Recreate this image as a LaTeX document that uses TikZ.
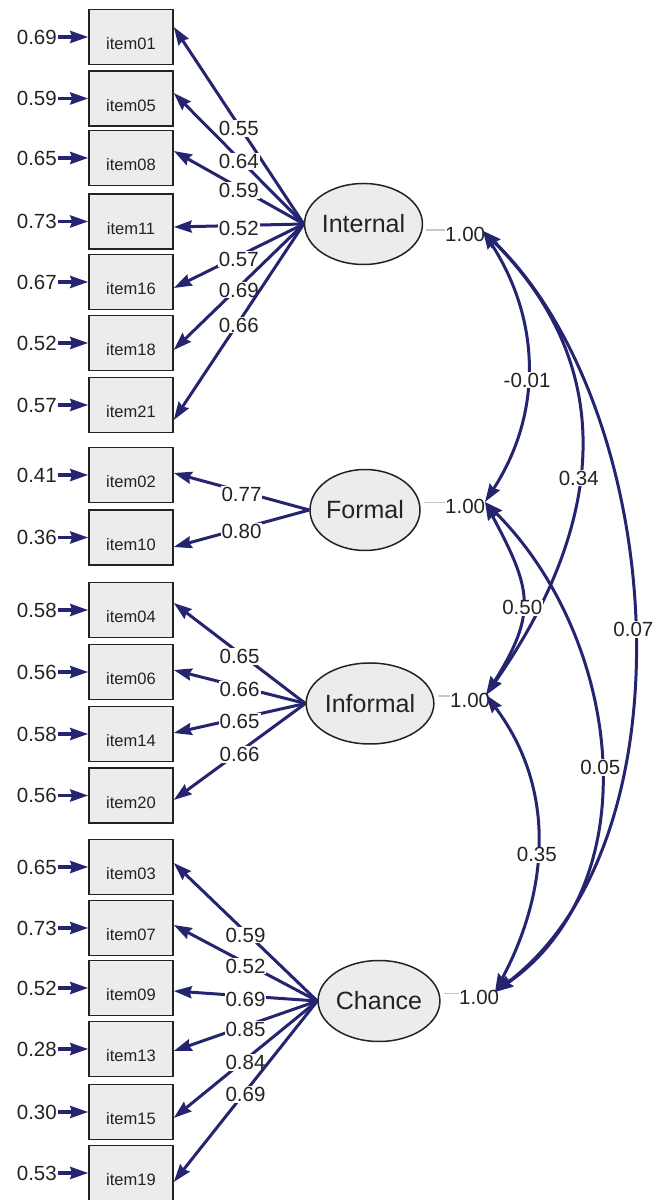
\documentclass[tikz,border=0pt]{standalone}
\usepackage{fontspec}
\setmainfont{Liberation Sans}
\usetikzlibrary{shapes.geometric,arrows.meta}

\definecolor{pathblue}{RGB}{36,36,112}
\definecolor{boxgray}{RGB}{236,236,236}
\definecolor{txtgray}{RGB}{35,35,35}

\tikzstyle{obs}=[rectangle,draw=txtgray,line width=1.5pt,fill=boxgray,minimum width=84pt,minimum height=55pt,inner sep=0pt,text height=26pt,text depth=0pt,font=\fontsize{16.5}{18}\selectfont,text=txtgray]
\tikzstyle{lat}=[ellipse,draw=txtgray,line width=1.5pt,fill=boxgray,minimum width=107pt,minimum height=81pt,inner sep=0pt,font=\fontsize{25}{28}\selectfont,text=txtgray]
\tikzstyle{err}=[inner sep=1pt,font=\fontsize{20.5}{23}\selectfont,text=txtgray]
\tikzstyle{var}=[inner sep=0pt,text height=23pt,text depth=0pt,font=\fontsize{20.5}{23}\selectfont,text=txtgray]
\tikzstyle{lbl}=[fill=white,inner sep=1pt,yshift=-3pt,font=\fontsize{20.5}{23}\selectfont,text=txtgray]
\tikzstyle{clbl}=[fill=white,inner sep=1pt,font=\fontsize{20.5}{23}\selectfont,text=txtgray]
\tikzstyle{erra}=[draw=pathblue,line width=3.5pt,-{Stealth[length=18pt,width=12pt,inset=2pt]}]
\tikzstyle{ledge}=[draw=pathblue,line width=3pt,-{Stealth[length=18pt,width=12pt,inset=2pt]}]
\tikzstyle{cedge}=[draw=pathblue,line width=3pt,{Stealth[length=18pt,width=12pt,inset=2pt]}-{Stealth[length=18pt,width=12pt,inset=2pt]}]
\tikzstyle{varl}=[draw=black!22,line width=1.5pt,shorten >=3pt]

\begin{document}
\begin{tikzpicture}[x=1pt,y=1pt]
        \useasboundingbox (0,0) rectangle (653,1200);

        % indicators
        \draw (131,1200-37)    node[obs](item01){item01};
        \draw (131,1200-98.5)  node[obs](item05){item05};
        \draw (131,1200-158)   node[obs](item08){item08};
        \draw (131,1200-221.5) node[obs](item11){item11};
        \draw (131,1200-282)   node[obs](item16){item16};
        \draw (131,1200-343)   node[obs](item18){item18};
        \draw (131,1200-405)   node[obs](item21){item21};
        \draw (131,1200-475)   node[obs](item02){item02};
        \draw (131,1200-537.5) node[obs](item10){item10};
        \draw (131,1200-610)   node[obs](item04){item04};
        \draw (131,1200-672)   node[obs](item06){item06};
        \draw (131,1200-734)   node[obs](item14){item14};
        \draw (131,1200-795.5) node[obs](item20){item20};
        \draw (131,1200-867)   node[obs](item03){item03};
        \draw (131,1200-928)   node[obs](item07){item07};
        \draw (131,1200-988)   node[obs](item09){item09};
        \draw (131,1200-1049)  node[obs](item13){item13};
        \draw (131,1200-1112)  node[obs](item15){item15};
        \draw (131,1200-1173)  node[obs](item19){item19};
        %
        \draw (58,1200-37)    node[err,anchor=east](e01){0.69};
        \draw (58,1200-98.5)  node[err,anchor=east](e05){0.59};
        \draw (58,1200-158)   node[err,anchor=east](e08){0.65};
        \draw (58,1200-221.5) node[err,anchor=east](e11){0.73};
        \draw (58,1200-282)   node[err,anchor=east](e16){0.67};
        \draw (58,1200-343)   node[err,anchor=east](e18){0.52};
        \draw (58,1200-405)   node[err,anchor=east](e21){0.57};
        \draw (58,1200-475)   node[err,anchor=east](e02){0.41};
        \draw (58,1200-537.5) node[err,anchor=east](e10){0.36};
        \draw (58,1200-610)   node[err,anchor=east](e04){0.58};
        \draw (58,1200-672)   node[err,anchor=east](e06){0.56};
        \draw (58,1200-734)   node[err,anchor=east](e14){0.58};
        \draw (58,1200-795.5) node[err,anchor=east](e20){0.56};
        \draw (58,1200-867)   node[err,anchor=east](e03){0.65};
        \draw (58,1200-928)   node[err,anchor=east](e07){0.73};
        \draw (58,1200-988)   node[err,anchor=east](e09){0.52};
        \draw (58,1200-1049)  node[err,anchor=east](e13){0.28};
        \draw (58,1200-1112)  node[err,anchor=east](e15){0.30};
        \draw (58,1200-1173)  node[err,anchor=east](e19){0.53};

        % latent factors
        \draw (363.5,1200-224)  node[lat](Internal){Internal};
        \draw (365,1200-510)    node[lat](Formal){Formal};
        \draw (370,1200-703.5)  node[lat](Informal){Informal};
        \draw (379,1200-1001)   node[lat](Chance){Chance};
        %
        \draw (445,1200-230)    node[var,anchor=west](v1){1.00};
        \draw (445,1200-502.5)  node[var,anchor=west](v2){1.00};
        \draw (450,1200-696)    node[var,anchor=west](v3){1.00};
        \draw (459,1200-993.5)  node[var,anchor=west](v4){1.00};
        \draw[varl] (v1.west) -- (v1.west -| Internal.east);
        \draw[varl] (v2.west) -- (v2.west -| Formal.east);
        \draw[varl] (v3.west) -- (v3.west -| Informal.east);
        \draw[varl] (v4.west) -- (v4.west -| Chance.east);
        \coordinate (t1) at (483,1200-231);
        \coordinate (t2) at (485,1200-502);
        \coordinate (t3) at (486,1200-695);
        \coordinate (t4) at (495,1200-992);

        % errors
        \path
            (e01) edge[erra] (item01)
            (e05) edge[erra] (item05)
            (e08) edge[erra] (item08)
            (e11) edge[erra] (item11)
            (e16) edge[erra] (item16)
            (e18) edge[erra] (item18)
            (e21) edge[erra] (item21)
            (e02) edge[erra] (item02)
            (e10) edge[erra] (item10)
            (e04) edge[erra] (item04)
            (e06) edge[erra] (item06)
            (e14) edge[erra] (item14)
            (e20) edge[erra] (item20)
            (e03) edge[erra] (item03)
            (e07) edge[erra] (item07)
            (e09) edge[erra] (item09)
            (e13) edge[erra] (item13)
            (e15) edge[erra] (item15)
            (e19) edge[erra] (item19)
        ;

        % loadings
        \path
            (Internal.west) edge[ledge] node[lbl]{0.55} ([yshift=10pt]item01.east)
            (Internal.west) edge[ledge] node[lbl]{0.64} ([yshift=5.5pt]item05.east)
            (Internal.west) edge[ledge] node[lbl]{0.59} ([yshift=7pt]item08.east)
            (Internal.west) edge[ledge] node[lbl]{0.52} ([yshift=-5.5pt]item11.east)
            (Internal.west) edge[ledge] node[lbl]{0.57} ([yshift=-6pt]item16.east)
            (Internal.west) edge[ledge] node[lbl]{0.69} ([yshift=-7pt]item18.east)
            (Internal.west) edge[ledge] node[lbl]{0.66} ([yshift=-15pt]item21.east)
            (Formal.west)   edge[ledge] node[lbl]{0.77} ([yshift=2pt]item02.east)
            (Formal.west)   edge[ledge] node[lbl]{0.80} ([yshift=-9.5pt]item10.east)
            (Informal.west) edge[ledge] node[lbl]{0.65} ([yshift=7pt]item04.east)
            (Informal.west) edge[ledge] node[lbl]{0.66} ([yshift=2pt]item06.east)
            (Informal.west) edge[ledge] node[lbl]{0.65} ([yshift=1pt]item14.east)
            (Informal.west) edge[ledge] node[lbl]{0.66} ([yshift=-4.5pt]item20.east)
            (Chance.west)   edge[ledge] node[lbl]{0.59} ([yshift=4pt]item03.east)
            (Chance.west)   edge[ledge] node[lbl]{0.52} ([yshift=3pt]item07.east)
            (Chance.west)   edge[ledge] node[lbl]{0.69} ([yshift=-3pt]item09.east)
            (Chance.west)   edge[ledge] node[lbl]{0.85} ([yshift=-2pt]item13.east)
            (Chance.west)   edge[ledge] node[lbl]{0.84} ([yshift=-6pt]item15.east)
            (Chance.west)   edge[ledge] node[lbl]{0.69} ([yshift=-9pt]item19.east)
        ;

        % covariances
        \path
            (t1) edge[cedge,out=-57,in=57]                 node[clbl,pos=0.55]{-0.01} (t2)
            (t1) edge[cedge,out=-45,in=55,looseness=1.1]   node[clbl,pos=0.55]{0.34}  (t3)
            (t1) edge[cedge,out=-44,in=37,looseness=0.85]  node[clbl,pos=0.51]{0.07}  (t4)
            (t2) edge[cedge,out=-62,in=58,looseness=1.3]   node[clbl,pos=0.55]{0.50}  (t3)
            (t2) edge[cedge,out=-45,in=35]                 node[clbl,pos=0.52]{0.05}  (t4)
            (t3) edge[cedge,out=-53,in=62]                 node[clbl,pos=0.55]{0.35}  (t4)
        ;
      \end{tikzpicture}
\end{document}
